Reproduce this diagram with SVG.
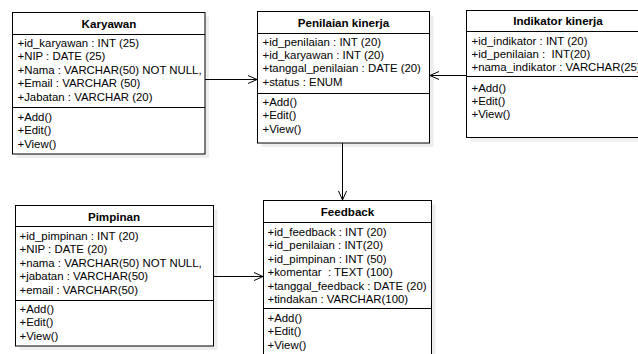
<svg xmlns="http://www.w3.org/2000/svg" width="638" height="354" viewBox="0 0 638 354">
<style>
.box{fill:#fff;stroke:#000;stroke-width:1}
.sh{fill:#000;opacity:0.07}
.div{stroke:#000;stroke-width:1}
.t{font-family:"Liberation Sans",Arial,sans-serif;font-size:11.6px;font-weight:bold;text-anchor:middle;fill:#000}
.a{font-family:"Liberation Sans",Arial,sans-serif;font-size:11.4px;fill:#000;white-space:pre}
.c{stroke:#000;stroke-width:1;fill:none}
</style>
<defs>
<marker id="arr" markerWidth="12" markerHeight="12" refX="10" refY="5" orient="auto" markerUnits="userSpaceOnUse">
<path d="M1,1 L10,5 L1,9" fill="none" stroke="#000" stroke-width="1"/>
</marker>
</defs>
<rect width="638" height="354" fill="#fff"/>

<g id="karyawan">
<rect class="sh" x="16.5" y="16.5" width="192.5" height="141.5"/>
<rect class="box" x="12.5" y="12.5" width="192.5" height="141.5"/>
<line class="div" x1="12.5" y1="34.5" x2="205" y2="34.5"/>
<line class="div" x1="12.5" y1="107.5" x2="205" y2="107.5"/>
<text class="t" x="109" y="28">Karyawan</text>
<text class="a" x="17.5" y="47">+id_karyawan : INT (25)</text>
<text class="a" x="17.5" y="60.4">+NIP : DATE (25)</text>
<text class="a" x="17.5" y="73.8">+Nama : VARCHAR(50) NOT NULL,</text>
<text class="a" x="17.5" y="87.2">+Email : VARCHAR (50)</text>
<text class="a" x="17.5" y="100.6">+Jabatan : VARCHAR (20)</text>
<text class="a" x="17.5" y="121">+Add()</text>
<text class="a" x="17.5" y="134.4">+Edit()</text>
<text class="a" x="17.5" y="147.8">+View()</text>
</g>

<g id="penilaian">
<rect class="sh" x="261.5" y="15.5" width="172" height="131.5"/>
<rect class="box" x="257.5" y="11.5" width="172" height="131.5"/>
<line class="div" x1="257.5" y1="33.5" x2="429.5" y2="33.5"/>
<line class="div" x1="257.5" y1="93.5" x2="429.5" y2="93.5"/>
<text class="t" x="343.5" y="27">Penilaian kinerja</text>
<text class="a" x="262.5" y="45.5">+id_penilaian : INT (20)</text>
<text class="a" x="262.5" y="58.9">+id_karyawan : INT (20)</text>
<text class="a" x="262.5" y="72.3">+tanggal_penilaian : DATE (20)</text>
<text class="a" x="262.5" y="85.7">+status : ENUM</text>
<text class="a" x="262.5" y="106">+Add()</text>
<text class="a" x="262.5" y="119.4">+Edit()</text>
<text class="a" x="262.5" y="132.8">+View()</text>
</g>

<g id="indikator">
<rect class="sh" x="470.5" y="14.5" width="183" height="127"/>
<rect class="box" x="466.5" y="10.5" width="183" height="127"/>
<line class="div" x1="466.5" y1="31.5" x2="649.5" y2="31.5"/>
<line class="div" x1="466.5" y1="76.5" x2="649.5" y2="76.5"/>
<text class="t" x="558" y="25">Indikator kinerja</text>
<text class="a" x="471.5" y="45">+id_indikator : INT (20)</text>
<text class="a" x="471.5" y="58.4">+id_penilaian :  INT(20)</text>
<text class="a" x="471.5" y="71.3">+nama_indikator : VARCHAR(25)</text>
<text class="a" x="471.5" y="92">+Add()</text>
<text class="a" x="471.5" y="105.2">+Edit()</text>
<text class="a" x="471.5" y="118.4">+View()</text>
</g>

<g id="pimpinan">
<rect class="sh" x="19.5" y="209.5" width="198" height="140.5"/>
<rect class="box" x="15.5" y="205.5" width="198" height="140.5"/>
<line class="div" x1="15.5" y1="226.5" x2="213.5" y2="226.5"/>
<line class="div" x1="15.5" y1="300.5" x2="213.5" y2="300.5"/>
<text class="t" x="114" y="220.5">Pimpinan</text>
<text class="a" x="19.5" y="240">+id_pimpinan : INT (20)</text>
<text class="a" x="19.5" y="253.4">+NIP : DATE (20)</text>
<text class="a" x="19.5" y="266.8">+nama : VARCHAR(50) NOT NULL,</text>
<text class="a" x="19.5" y="280.2">+jabatan : VARCHAR(50)</text>
<text class="a" x="19.5" y="293.6">+email : VARCHAR(50)</text>
<text class="a" x="19.5" y="313">+Add()</text>
<text class="a" x="19.5" y="326.4">+Edit()</text>
<text class="a" x="19.5" y="339.8">+View()</text>
</g>

<g id="feedback">
<rect class="sh" x="267.5" y="204.5" width="168" height="170"/>
<rect class="box" x="263.5" y="200.5" width="168" height="170"/>
<line class="div" x1="263.5" y1="222.5" x2="431.5" y2="222.5"/>
<line class="div" x1="263.5" y1="308.5" x2="431.5" y2="308.5"/>
<text class="t" x="347.5" y="216">Feedback</text>
<text class="a" x="267.5" y="236">+id_feedback : INT (20)</text>
<text class="a" x="267.5" y="249.4">+id_penilaian : INT(20)</text>
<text class="a" x="267.5" y="262.8">+id_pimpinan : INT (50)</text>
<text class="a" x="267.5" y="276.2">+komentar  : TEXT (100)</text>
<text class="a" x="267.5" y="289.6">+tanggal_feedback : DATE (20)</text>
<text class="a" x="267.5" y="303">+tindakan : VARCHAR(100)</text>
<text class="a" x="267.5" y="322">+Add()</text>
<text class="a" x="267.5" y="335.4">+Edit()</text>
<text class="a" x="267.5" y="348.8">+View()</text>
</g>

<g id="connectors">
<line class="c" x1="205" y1="79.5" x2="257" y2="79.5" marker-end="url(#arr)"/>
<line class="c" x1="466.5" y1="75.5" x2="430" y2="75.5" marker-end="url(#arr)"/>
<line class="c" x1="342.5" y1="143" x2="342.5" y2="200" marker-end="url(#arr)"/>
<line class="c" x1="213.5" y1="276.5" x2="263" y2="276.5" marker-end="url(#arr)"/>
</g>
</svg>
